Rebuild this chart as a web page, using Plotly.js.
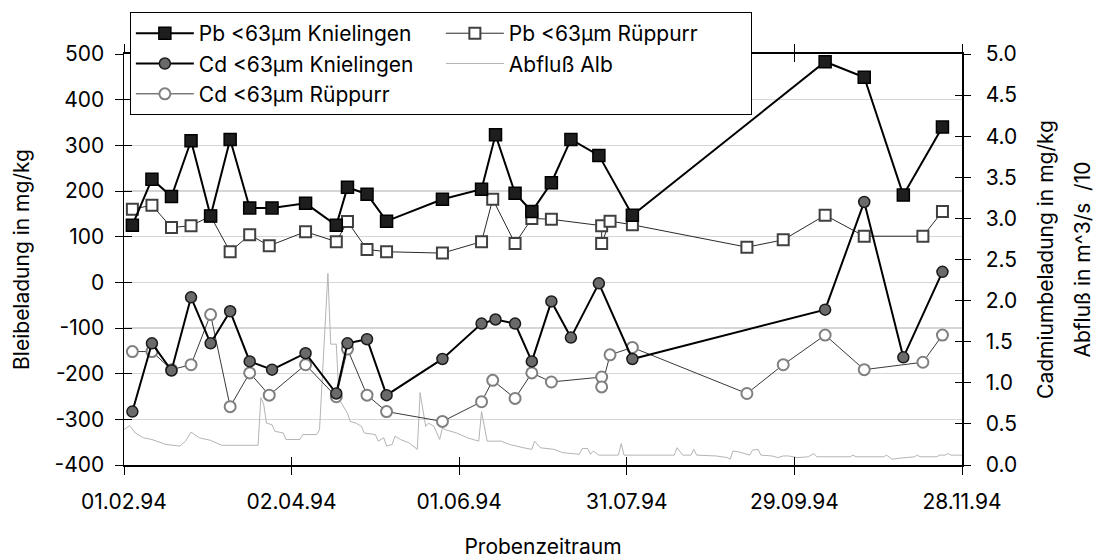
<!DOCTYPE html>
<html>
<head>
<meta charset="utf-8">
<script src="https://cdn.plot.ly/plotly-3.0.1.min.js"></script>
<style>
  html, body { margin: 0; padding: 0; background: #fff; }
  #chart { width: 1095px; height: 559px; }
</style>
</head>
<body>
<div id="chart"></div>
<script>
// Sampling dates, Knielingen
const datesKnielingen = [
  '1994-02-04','1994-02-11','1994-02-18','1994-02-25','1994-03-04','1994-03-11',
  '1994-03-18','1994-03-26','1994-04-07','1994-04-18','1994-04-22','1994-04-29',
  '1994-05-06','1994-05-26','1994-06-09','1994-06-14','1994-06-21','1994-06-27',
  '1994-07-04','1994-07-11','1994-07-21','1994-08-02','1994-10-10','1994-10-24',
  '1994-11-07','1994-11-21'
];
// Lead, fraction < 63 µm, Knielingen (mg/kg)
const pbKnielingen = [125, 226, 188, 310, 145, 313, 163, 163, 173, 125, 208, 193,
                      134, 182, 204, 323, 195, 155, 218, 313, 278, 147, 483, 449, 191, 340];
// Cadmium, fraction < 63 µm, Knielingen (mg/kg)
const cdKnielingen = [0.65, 1.48, 1.15, 2.04, 1.48, 1.87, 1.26, 1.16, 1.36, 0.87, 1.48, 1.53,
                      0.85, 1.29, 1.72, 1.77, 1.72, 1.26, 1.99, 1.55, 2.21, 1.29, 1.89, 3.20, 1.31, 2.35];

// Sampling dates, Rüppurr
const datesRueppurr = [
  '1994-02-04','1994-02-11','1994-02-18','1994-02-25','1994-03-04','1994-03-11',
  '1994-03-18','1994-03-25','1994-04-07','1994-04-18','1994-04-22','1994-04-29',
  '1994-05-06','1994-05-26','1994-06-09','1994-06-13','1994-06-21','1994-06-27',
  '1994-07-04','1994-07-22','1994-07-22','1994-07-25','1994-08-02','1994-09-12',
  '1994-09-25','1994-10-10','1994-10-24','1994-11-14','1994-11-21'
];
// Lead, fraction < 63 µm, Rüppurr (mg/kg)
const pbRueppurr = [160, 169, 120, 124, 145, 67, 104, 80, 111, 89, 133, 72,
                    67, 64, 89, 182, 85, 140, 138, 124, 85, 134, 126, 77,
                    93, 147, 101, 101, 155];
// Cadmium, fraction < 63 µm, Rüppurr (mg/kg)
const cdRueppurr = [1.38, 1.38, 1.16, 1.22, 1.83, 0.71, 1.12, 0.85, 1.22, 0.83, 1.41, 0.85,
                    0.65, 0.53, 0.77, 1.03, 0.81, 1.12, 1.01, 1.07, 0.95, 1.34, 1.43, 0.87,
                    1.22, 1.58, 1.16, 1.25, 1.58];

// Discharge of the Alb (m^3/s divided by 10), days counted from flowStart
const flowStart = '1994-02-01';
const flowDay = [0, 2, 4, 7, 10, 15, 20, 22, 24, 27, 31, 35, 48, 49, 50, 51, 53, 54, 57, 58,
  63, 64, 69, 70, 73, 74, 76, 77, 80, 81, 83, 85, 86, 90, 91, 93, 94, 96, 97, 99,
  102, 105, 106, 108, 109, 111, 113, 114, 115, 119, 123, 127, 128, 130, 135, 138, 143, 146, 147, 149,
  154, 157, 163, 164, 166, 167, 168, 170, 177, 178, 179, 197, 198, 200, 203, 204, 205, 212, 216, 217,
  218, 220, 224, 225, 227, 228, 232, 234, 236, 238, 241, 245, 247, 248, 260, 261, 262, 272, 273, 275,
  277, 283, 284, 285, 291, 292, 294, 295, 296, 300];
const flowAlb = [0.43, 0.48, 0.39, 0.33, 0.31, 0.25, 0.23, 0.29, 0.40, 0.33, 0.30, 0.24, 0.24, 0.82, 0.74, 0.51, 0.49, 0.41, 0.39, 0.31,
  0.31, 0.37, 0.37, 0.43, 2.33, 1.47, 1.47, 0.80, 0.63, 0.53, 0.51, 0.47, 0.39, 0.37, 0.29, 0.33, 0.23, 0.25, 0.35, 0.31,
  0.27, 0.19, 0.88, 0.47, 0.51, 0.47, 0.31, 0.45, 0.43, 0.39, 0.33, 0.29, 0.65, 0.29, 0.29, 0.25, 0.21, 0.19, 0.29, 0.21,
  0.19, 0.15, 0.13, 0.20, 0.20, 0.13, 0.17, 0.12, 0.12, 0.26, 0.12, 0.12, 0.21, 0.12, 0.12, 0.19, 0.12, 0.11, 0.09, 0.07,
  0.17, 0.16, 0.12, 0.18, 0.19, 0.12, 0.11, 0.09, 0.11, 0.11, 0.09, 0.10, 0.14, 0.10, 0.10, 0.12, 0.10, 0.10, 0.12, 0.07,
  0.08, 0.10, 0.12, 0.10, 0.10, 0.12, 0.12, 0.14, 0.12, 0.12];

// Date axis ticks
const tickDates = ['1994-02-01','1994-04-02','1994-06-01','1994-07-31','1994-09-29','1994-11-28'];
const tickLabels = ['01.02.94','02.04.94','01.06.94','31.07.94','29.09.94','28.11.94'];

// Lead axis ticks (plain hyphen for negatives)
const pbTicks = [-400, -300, -200, -100, 0, 100, 200, 300, 400, 500];
const pbTickLabels = ['-400', '-300', '-200', '-100', '0', '100', '200', '300', '400', '500'];

const xStart = '1994-02-01';
const xEnd = '1994-11-28';

function dayToDate(start, d) {
  const t = Date.parse(start + 'T00:00:00Z') + d * 86400000;
  return new Date(t).toISOString().slice(0, 10);
}
const flowDates = flowDay.map(d => dayToDate(flowStart, d));

const FONT = 'Inter, "Liberation Sans", Arial, sans-serif';
const FS = 21;

const traces = [
  {
    name: 'Abfluß Alb', x: flowDates, y: flowAlb, yaxis: 'y2',
    type: 'scatter', mode: 'lines', legendrank: 4,
    line: { color: '#b4b4b4', width: 1 }
  },
  {
    name: 'Cd <63µm Rüppurr', x: datesRueppurr, y: cdRueppurr, yaxis: 'y2',
    type: 'scatter', mode: 'lines+markers', legendrank: 5, cliponaxis: false,
    line: { color: '#3a3a3a', width: 1 },
    marker: { symbol: 'circle', size: 11, color: '#ffffff', line: { color: '#808080', width: 2 } }
  },
  {
    name: 'Cd <63µm Knielingen', x: datesKnielingen, y: cdKnielingen, yaxis: 'y2',
    type: 'scatter', mode: 'lines+markers', legendrank: 3, cliponaxis: false,
    line: { color: '#000000', width: 2 },
    marker: { symbol: 'circle', size: 11, color: '#6a6a6a', line: { color: '#1a1a1a', width: 1.5 } }
  },
  {
    name: 'Pb <63µm Rüppurr', x: datesRueppurr, y: pbRueppurr, yaxis: 'y',
    type: 'scatter', mode: 'lines+markers', legendrank: 2, cliponaxis: false,
    line: { color: '#2a2a2a', width: 1 },
    marker: { symbol: 'square', size: 11, color: '#ffffff', line: { color: '#404040', width: 2 } }
  },
  {
    name: 'Pb <63µm Knielingen', x: datesKnielingen, y: pbKnielingen, yaxis: 'y',
    type: 'scatter', mode: 'lines+markers', legendrank: 1, cliponaxis: false,
    line: { color: '#000000', width: 2 },
    marker: { symbol: 'square', size: 12, color: '#1e1e1e', line: { color: '#000000', width: 1.5 } }
  },
  // carriers for the inward halves of the crossing tick marks
  { x: [null], y: [null], xaxis: 'x2', yaxis: 'y3', showlegend: false, hoverinfo: 'skip', mode: 'markers' },
  { x: [null], y: [null], xaxis: 'x2', yaxis: 'y4', showlegend: false, hoverinfo: 'skip', mode: 'markers' }
];

const layout = {
  width: 1095, height: 559,
  margin: { l: 124, r: 133, t: 54, b: 94, pad: 0 },
  paper_bgcolor: '#ffffff', plot_bgcolor: '#ffffff',
  font: { family: FONT, size: FS, color: '#000000' },
  showlegend: true,
  legend: {
    orientation: 'h', x: 0.007, xanchor: 'left', y: 1.102, yanchor: 'top',
    bgcolor: '#ffffff', bordercolor: '#000000', borderwidth: 1,
    entrywidth: 237, entrywidthmode: 'pixels', itemwidth: 58,
    traceorder: 'normal', font: { family: FONT, size: FS, color: '#000000' }
  },
  xaxis: {
    type: 'date', range: [xStart, xEnd],
    tickmode: 'array', tickvals: tickDates, ticktext: tickLabels,
    ticks: 'outside', ticklen: 8, tickwidth: 1, tickcolor: '#000000',
    showline: true, linecolor: '#000000', linewidth: 2, mirror: 'allticks',
    showgrid: false, zeroline: false, ticklabelstandoff: 9,
    tickfont: { family: FONT, size: FS, color: '#000000' },
    title: { text: 'Probenzeitraum', standoff: 30, font: { family: FONT, size: FS, color: '#000000' } }
  },
  xaxis2: {
    type: 'date', range: [xStart, xEnd], overlaying: 'x', anchor: 'y',
    tickmode: 'array', tickvals: tickDates,
    ticks: 'inside', ticklen: 8, tickwidth: 1, tickcolor: '#000000',
    showticklabels: false, showline: false, showgrid: false, zeroline: false, mirror: 'allticks'
  },
  yaxis: {
    range: [-400, 500], tickmode: 'array', tickvals: pbTicks, ticktext: pbTickLabels,
    ticks: 'outside', ticklen: 8, tickwidth: 1, tickcolor: '#000000',
    showline: true, linecolor: '#000000', linewidth: 1.5,
    showgrid: true, gridcolor: '#d6d6d6', gridwidth: 1.5, zeroline: false,
    ticklabelstandoff: 6,
    tickfont: { family: FONT, size: FS, color: '#000000' },
    title: { text: 'Bleibeladung in mg/kg', standoff: 19, font: { family: FONT, size: FS, color: '#000000' } }
  },
  yaxis2: {
    range: [0, 5], tick0: 0, dtick: 0.5, tickformat: '.1f',
    overlaying: 'y', side: 'right', anchor: 'x',
    ticks: 'outside', ticklen: 7, tickwidth: 1, tickcolor: '#000000',
    showline: true, linecolor: '#000000', linewidth: 1.5,
    showgrid: false, zeroline: false, ticklabelstandoff: 11,
    tickfont: { family: FONT, size: FS, color: '#000000' },
    title: { text: 'Cadmiumbeladung in mg/kg', standoff: 22,
             font: { family: FONT, size: FS, color: '#000000' } }
  },
  yaxis3: {
    range: [-400, 500], tickmode: 'array', tickvals: pbTicks, overlaying: 'y', side: 'left', anchor: 'x2',
    ticks: 'inside', ticklen: 8, tickwidth: 1, tickcolor: '#000000',
    showticklabels: false, showline: false, showgrid: false, zeroline: false
  },
  yaxis4: {
    range: [0, 5], tick0: 0, dtick: 0.5, overlaying: 'y', side: 'right', anchor: 'x2',
    ticks: 'inside', ticklen: 7, tickwidth: 1, tickcolor: '#000000',
    showticklabels: false, showline: false, showgrid: false, zeroline: false
  },
  annotations: [
    {
      // second line of the right-hand axis title
      text: 'Abfluß in m^3/s\u00a0 /10', textangle: -90,
      xref: 'paper', yref: 'paper', x: 1.1432, y: 0.5, xanchor: 'center', yanchor: 'middle',
      showarrow: false, font: { family: FONT, size: FS, color: '#000000' }
    }
  ]
};

Plotly.newPlot('chart', traces, layout, { staticPlot: true, displayModeBar: false });
</script>
</body>
</html>
